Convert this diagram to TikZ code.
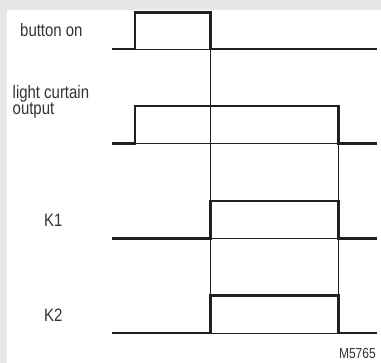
\documentclass[tikz,border=0pt]{standalone}
\usepackage{fontspec}
\setmainfont{Liberation Sans}[FakeStretch=0.83]
\definecolor{ink}{HTML}{231F20}
\definecolor{txt}{HTML}{333333}
\definecolor{frame}{HTML}{E6E7E8}
\begin{document}
\begin{tikzpicture}[x={(1pt,0)}, y={(0,-1pt)},
  signal/.style={draw=ink, line width=2.2pt, line join=miter},
  guide/.style={draw=ink, line width=0.8pt},
  lbl/.style={text=txt, inner sep=0pt, font=\fontsize{18}{13}\selectfont, align=left},
  tag/.style={text=txt, inner sep=0pt, font=\fontsize{14.5}{14}\selectfont}]
  % page with grey frame on top and left
  \useasboundingbox (0,0) rectangle (381,363);
  \fill[frame] (0,0) rectangle (381,363);
  \fill[white] (7,10) rectangle (381,363);

  % time instants
  \coordinate (t0) at (112,0);
  \coordinate (t1) at (135,0);
  \coordinate (t2) at (210.5,0);
  \coordinate (t3) at (338.5,0);
  \coordinate (t4) at (377,0);

  % signal levels
  \coordinate (bL) at (0,49);    \coordinate (bH) at (0,12.5);
  \coordinate (cL) at (0,143.5); \coordinate (cH) at (0,106);
  \coordinate (k1L) at (0,238.5);\coordinate (k1H) at (0,201);
  \coordinate (k2L) at (0,333);  \coordinate (k2H) at (0,295.5);

  % labels
  \node[lbl, anchor=base west] (lbtn) at (20,36.7) {button on};
  \node[lbl, anchor=base west] (lcur) at (12.5,115) {light curtain\\output};
  \node[lbl, anchor=base west] (lk1) at (44,227) {K1};
  \node[lbl, anchor=base west] (lk2) at (44,322) {K2};
  \node[tag, anchor=base east] (code) at (376,359) {M5765};

  % thin reference lines
  \draw[guide] (t1 |- bL) -- (t2 |- bL);
  \draw[guide] (t1 |- cL) -- (t3 |- cL);
  \draw[guide] (t2 |- k1L) -- (t3 |- k1L);
  \draw[guide] (t2 |- k2L) -- (t3 |- k2L);
  \draw[guide] (t2 |- bL) -- (t2 |- k2L);
  \draw[guide] (t3 |- cH) -- (t3 |- k2L);

  % button on
  \draw[signal] (t0 |- bL) -- (t1 |- bL) -- (t1 |- bH) -- (t2 |- bH)
    -- (t2 |- bL) -- (t4 |- bL);
  % light curtain output
  \draw[signal] (t0 |- cL) -- (t1 |- cL) -- (t1 |- cH) -- (t3 |- cH)
    -- (t3 |- cL) -- (t4 |- cL);
  % K1
  \draw[signal] (t0 |- k1L) -- (t2 |- k1L) -- (t2 |- k1H) -- (t3 |- k1H)
    -- (t3 |- k1L) -- (t4 |- k1L);
  % K2
  \draw[signal] (t0 |- k2L) -- (t2 |- k2L) -- (t2 |- k2H) -- (t3 |- k2H)
    -- (t3 |- k2L) -- (t4 |- k2L);
\end{tikzpicture}
\end{document}
